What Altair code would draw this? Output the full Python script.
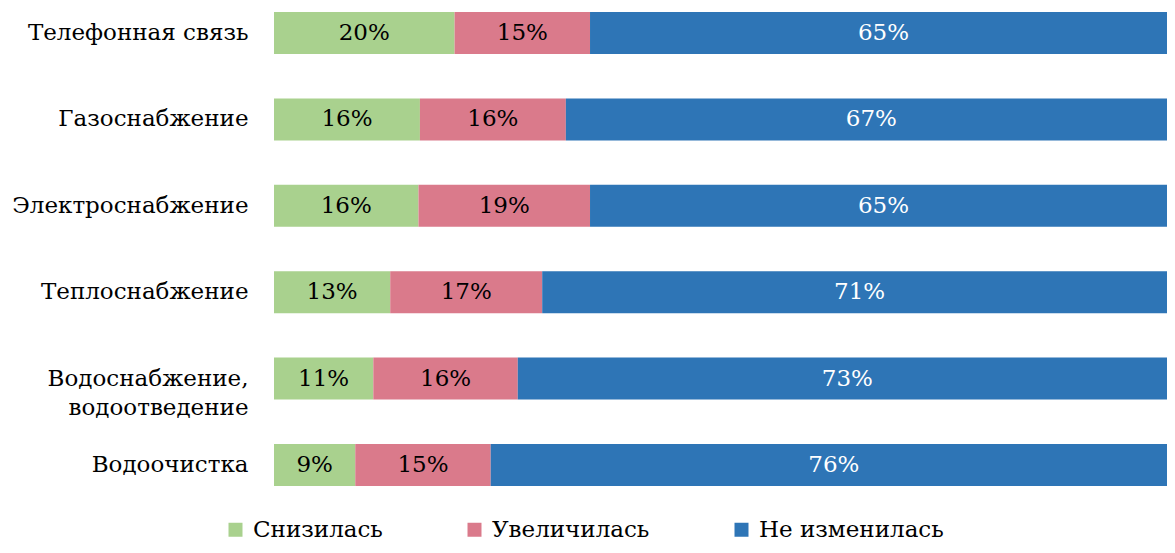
import altair as alt
import pandas as pd

categories = ["Телефонная связь", "Газоснабжение", "Электроснабжение",
              "Теплоснабжение", "Водоснабжение, водоотведение", "Водоочистка"]
series = ["Снизилась", "Увеличилась", "Не изменилась"]
decreased = [20, 16, 16, 13, 11, 9]
increased = [15, 16, 19, 17, 16, 15]
unchanged = [65, 67, 65, 71, 73, 76]
colors = ["#a9d18e", "#da7a8b", "#2e75b6"]

rows = []
for i, c in enumerate(categories):
    for j, (s, vals) in enumerate(zip(series, [decreased, increased, unchanged])):
        rows.append({"cat": c, "series": s, "value": vals[i], "order": j})
df = pd.DataFrame(rows)

FONT = "DejaVu Serif"

base = alt.Chart(df).transform_joinaggregate(
    total="sum(value)", groupby=["cat"]
).transform_window(
    cum="sum(value)", groupby=["cat"], sort=[alt.SortField("order")], frame=[None, 0]
).transform_calculate(
    x0="(datum.cum - datum.value) / datum.total",
    x1="datum.cum / datum.total",
    mid="(datum.cum - datum.value / 2) / datum.total",
    label="datum.value + '%'",
)

y_enc = alt.Y(
    "cat:N", sort=categories, title=None,
    scale=alt.Scale(paddingInner=0.514, paddingOuter=0.046),
    axis=alt.Axis(
        ticks=False, domain=False, labelFont=FONT, labelFontSize=23,
        labelColor="black", labelPadding=26, labelLimit=400, labelLineHeight=29,
        labelExpr="datum.label == 'Водоснабжение, водоотведение' ? ['Водоснабжение,', 'водоотведение'] : datum.label",
    ),
)

x_scale = alt.Scale(domain=[0, 0.989], nice=False, zero=False)

bars = base.mark_bar(clip=True).encode(
    y=y_enc,
    x=alt.X("x0:Q", scale=x_scale, axis=None),
    x2="x1:Q",
    color=alt.Color(
        "series:N", scale=alt.Scale(domain=series, range=colors),
        legend=alt.Legend(
            title=None, orient="none", legendX=-50, legendY=510,
            direction="horizontal", symbolType="square", symbolSize=196,
            symbolStrokeWidth=0, labelFont=FONT, labelFontSize=23,
            labelColor="black", columnPadding=80, labelOffset=6, padding=0,
            labelLimit=400,
        ),
    ),
)

text = base.mark_text(font=FONT, fontSize=23, baseline="middle").encode(
    y=alt.Y("cat:N", sort=categories),
    x=alt.X("mid:Q", scale=x_scale),
    text="label:N",
    color=alt.condition(alt.datum.series == "Не изменилась", alt.value("white"), alt.value("black")),
)

chart = alt.layer(bars, text).properties(
    width=893, height=482,
    autosize=alt.AutoSizeParams(type="none"),
    padding={"left": 266, "top": 0, "right": 0, "bottom": 55},
).configure_view(stroke=None)

chart.save("out.html", embed_options={"renderer": "svg", "actions": False})
